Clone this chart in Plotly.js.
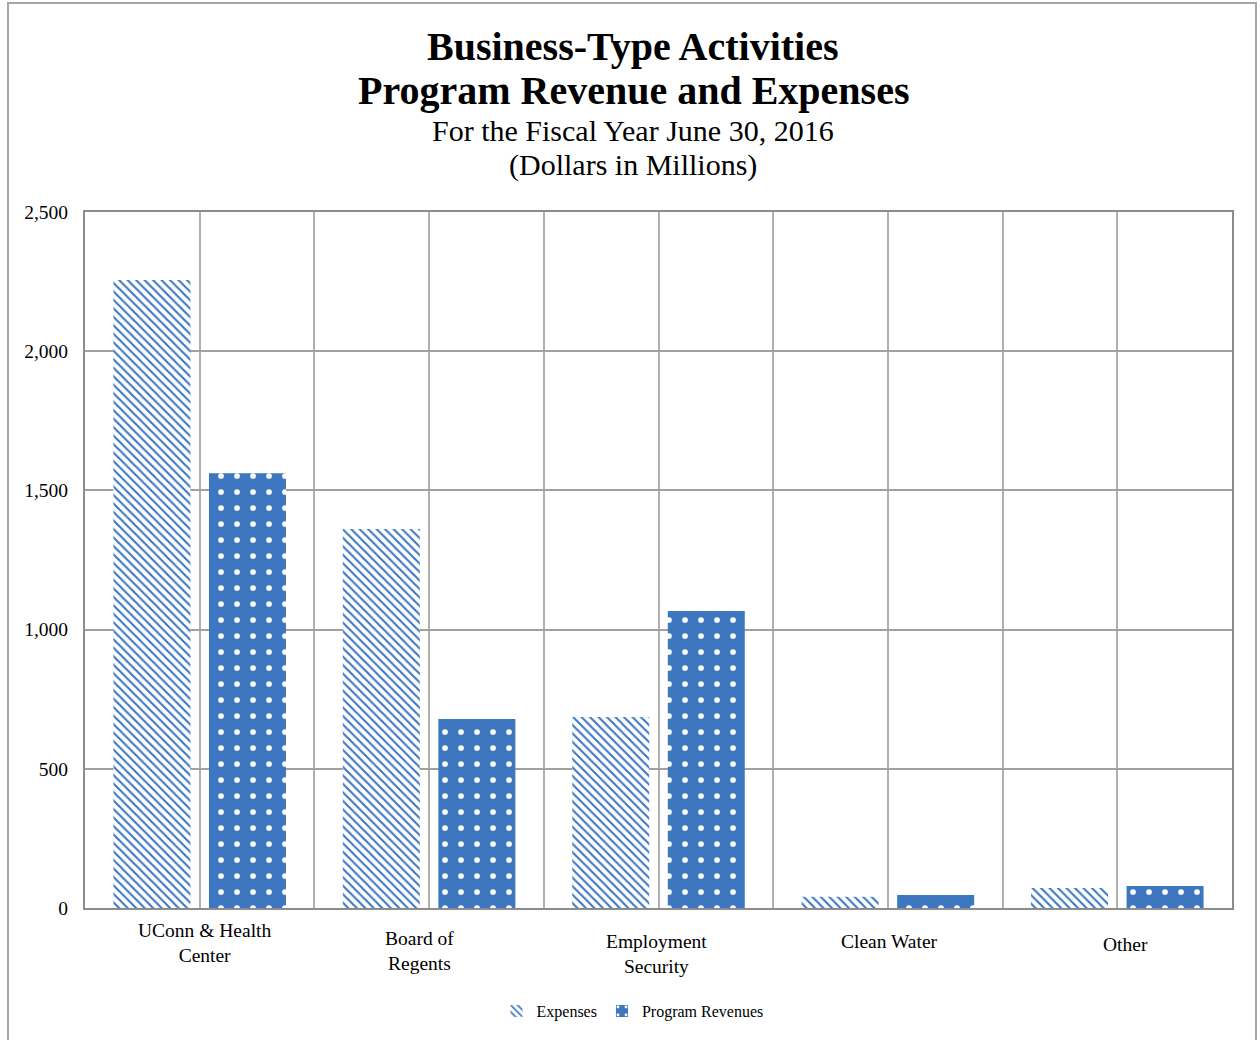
<!DOCTYPE html>
<html>
<head>
<meta charset="utf-8">
<script src="https://cdn.plot.ly/plotly-3.0.1.min.js"></script>
<style>
  html, body { margin: 0; padding: 0; background: #fff; }
  #chart { width: 1260px; height: 1040px; }
  #frame { position: absolute; left: 7px; top: 2px; width: 1250px; height: 1060px;
           border: 2px solid #a6a6a6; box-sizing: border-box; pointer-events: none; }
</style>
</head>
<body>
<div id="chart"></div>
<div id="frame"></div>
<script>
// ---- data ----
const categories = ["UConn & Health Center", "Board of Regents", "Employment Security", "Clean Water", "Other"];
const tickLabels = ["UConn & Health<br>Center", "Board of<br>Regents", "Employment<br>Security", "Clean Water", "Other"];
const expenses = [2256, 1361, 686, 40, 72];
const programRevenues = [1562, 679, 1067, 47, 79];
const seriesNames = ["Expenses", "Program Revenues"];
const yTickVals = [0, 500, 1000, 1500, 2000, 2500];
const yTickText = ["0", "500", "1,000", "1,500", "2,000", "2,500"];
const titleLines = ["Business-Type Activities", "Program Revenue and Expenses"];
const subtitleLines = ["For the Fiscal Year June 30, 2016", "(Dollars in Millions)"];

// ---- build ----
const blue = "#3d77bf";
const font = "Liberation Serif, Times New Roman, serif";
const xPos = categories.map((c, i) => i);

// gridline positions: category centres and boundaries
const xGridVals = [];
for (let i = 0; i < categories.length; i++) { xGridVals.push(i - 0.5); xGridVals.push(i); }
xGridVals.push(categories.length - 0.5);

const traces = [
  {
    type: "bar", name: seriesNames[0], x: xPos, y: expenses,
    hovertext: categories,
    marker: {
      color: blue, line: { width: 0 },
      pattern: { shape: "\\", fgcolor: blue, bgcolor: "white", size: 6, solidity: 0.35 }
    }
  },
  {
    type: "bar", name: seriesNames[1], x: xPos, y: programRevenues,
    hovertext: categories,
    marker: {
      color: blue, line: { width: 0 },
      pattern: { shape: ".", fgcolor: "white", bgcolor: blue, size: 16, solidity: 0.1 }
    }
  }
];

// title / subtitle lines placed as centered text lines
const lineCenters = [46, 91, 130, 165];
const lineSizes = [40, 40, 30, 30];
const allLines = [
  "<b>" + titleLines[0] + "</b>",
  "<b>" + titleLines[1] + "</b>",
  subtitleLines[0],
  subtitleLines[1]
];
const annotations = allLines.map((t, i) => ({
  text: t, showarrow: false,
  xref: "paper", yref: "paper",
  x: (633 - 85) / 1147, xanchor: "center",
  y: 1 + (212 - lineCenters[i]) / 696, yanchor: "middle",
  font: { family: font, size: lineSizes[i], color: "#000" }
}));

// category labels below the axis (small per-label offsets as in the original)
const labelXShift = [5, -10, -2, 2, 8];
const labelYShift = [0, -8, -11, -11, -14];
tickLabels.forEach((t, i) => {
  annotations.push({
    text: t, showarrow: false,
    xref: "x", yref: "paper", x: xPos[i], y: 0,
    xanchor: "center", yanchor: "top",
    xshift: labelXShift[i], yshift: -10 + labelYShift[i],
    align: "center",
    font: { family: font, size: 19.5, color: "#000" }
  });
});

const layout = {
  width: 1260, height: 1040,
  paper_bgcolor: "white", plot_bgcolor: "white",
  margin: { l: 85, r: 28, t: 212, b: 132 },
  font: { family: font, color: "#000" },
  annotations: annotations,
  barmode: "group",
  bargap: 0.167,
  bargroupgap: 0.194,
  xaxis: {
    range: [-0.5, categories.length - 0.5],
    tickmode: "array", tickvals: xGridVals, showticklabels: false,
    showgrid: true, gridcolor: "#b0b0b0", gridwidth: 2,
    showline: true, linecolor: "#8c8c8c", linewidth: 2, mirror: true,
    ticks: "",
    zeroline: false, fixedrange: true
  },
  yaxis: {
    range: [0, 2500],
    tickmode: "array", tickvals: yTickVals, ticktext: yTickText,
    showgrid: true, gridcolor: "#a0a0a0", gridwidth: 2,
    showline: true, linecolor: "#8c8c8c", linewidth: 2, mirror: true,
    ticks: "", ticklabelstandoff: 11,
    tickfont: { family: font, size: 19.5, color: "#000" },
    zeroline: false, fixedrange: true
  },
  showlegend: true,
  legend: {
    orientation: "h",
    xref: "container", x: 0.502, xanchor: "center",
    yref: "container", y: 1 - 1011 / 1040, yanchor: "middle",
    font: { family: font, size: 16, color: "#000" },
    itemwidth: 30, tracegroupgap: 0
  }
};

Plotly.newPlot("chart", traces, layout, { displayModeBar: false, staticPlot: true });
</script>
</body>
</html>
